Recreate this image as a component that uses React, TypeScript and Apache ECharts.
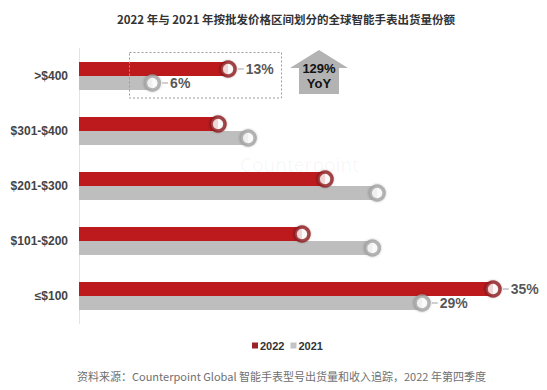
import React, { useEffect, useRef } from "react";
import * as echarts from "echarts";

const categories = [">$400", "$301-$400", "$201-$300", "$101-$200", "≤$100"];
const share2022 = [12.6, 11.75, 20.8, 18.85, 35];
const share2021 = [6.2, 14.3, 25.2, 24.8, 29];
const labelledIdx = [0, 4];
const seriesNames = ["2022", "2021"];
const titleText = "2022 年与 2021 年按批发价格区间划分的全球智能手表出货量份额";
const sourceText = "资料来源：Counterpoint Global 智能手表型号出货量和收入追踪，2022 年第四季度";
const yoyLines = ["129%", "YoY"];

const RED = "#BD1A1D";
const RED_DARK = "#8E1B1E";
const GRAY = "#BEBEBE";
const GRAY_DARK = "#A4A4A4";

export default function App() {
  const ref = useRef<HTMLDivElement>(null);
  useEffect(() => {
    if (!ref.current) return;
    const chart = echarts.init(ref.current, undefined, { renderer: "svg" });
    const pointLabel = (vals: number[]) => ({
      show: true,
      position: "right",
      distance: 1,
      color: "#2a2a2a",
      formatter: (p: any) =>
        labelledIdx.includes(p.dataIndex) ? `{d|}{v|${Math.round(vals[p.dataIndex])}%}` : "",
      rich: {
        d: { width: 6, height: 1, backgroundColor: "#8a8a8a" },
        v: {
          fontSize: 14,
          fontWeight: "bold",
          color: "#2a2a2a",
          fontFamily: "Liberation Sans, Arial, sans-serif",
          padding: [0, 0, 0, 2],
        },
      },
    });
    chart.setOption({
      animation: false,
      backgroundColor: "#fff",
      title: {
        text: titleText,
        left: 281,
        textAlign: "center",
        top: 8,
        textStyle: {
          fontSize: 11.5,
          fontWeight: "bold",
          color: "#333",
          fontFamily: "Noto Sans CJK SC",
        },
      },
      legend: {
        data: [
          { name: "2022", itemStyle: { color: "#9B2327" } },
          { name: "2021", itemStyle: { color: "#C4C4C4" } },
        ],
        left: 247,
        top: 335,
        icon: "rect",
        itemWidth: 6,
        itemHeight: 6,
        itemGap: 6,
        textStyle: {
          fontSize: 11,
          fontWeight: "bold",
          color: "#333",
          fontFamily: "Liberation Sans, Arial, sans-serif",
          padding: [0, 0, 0, -3],
        },
      },
      grid: { left: 79, right: 18.5, top: 48.5, bottom: 66.5 },
      xAxis: {
        type: "value",
        min: 0,
        max: 38,
        show: false,
      },
      yAxis: {
        type: "category",
        data: categories,
        inverse: true,
        axisLine: { show: true, lineStyle: { color: "#E3E3E3", width: 1 } },
        axisTick: { show: false },
        axisLabel: {
          margin: 11,
          fontSize: 12,
          fontWeight: "bold",
          color: "#444",
          fontFamily: "Liberation Sans, Arial, sans-serif",
        },
      },
      graphic: [
        {
          type: "text",
          left: 240,
          top: 155,
          z: 0,
          style: {
            text: "Counterpoint",
            fontSize: 19,
            fill: "rgba(0,0,0,0.04)",
            fontFamily: "Noto Sans, sans-serif",
          },
        },
        {
          type: "rect",
          shape: { x: 129.5, y: 52.5, width: 152, height: 45.5 },
          style: { fill: "none", stroke: "#9a9a9a", lineWidth: 1, lineDash: [2, 2] },
          z: 10,
        },
        {
          type: "polygon",
          shape: {
            points: [
              [319, 50],
              [348, 68],
              [339, 68],
              [339, 94],
              [299, 94],
              [299, 68],
              [290, 68],
            ],
          },
          style: { fill: "#B3B3B3" },
          z: 10,
        },
        {
          type: "text",
          x: 319,
          y: 68,
          z: 11,
          style: {
            text: yoyLines[0],
            align: "center",
            verticalAlign: "middle",
            fontSize: 13,
            fontWeight: "bold",
            fill: "#111",
            fontFamily: "Liberation Sans, Arial, sans-serif",
          },
        },
        {
          type: "text",
          x: 319,
          y: 83,
          z: 11,
          style: {
            text: yoyLines[1],
            align: "center",
            verticalAlign: "middle",
            fontSize: 13,
            fontWeight: "bold",
            fill: "#111",
            fontFamily: "Liberation Sans, Arial, sans-serif",
          },
        },
        {
          type: "text",
          left: 77,
          top: 370,
          style: {
            text: sourceText,
            fontSize: 11,
            fill: "#707070",
            fontFamily: "Noto Sans CJK SC",
          },
        },
      ],
      series: [
        {
          name: seriesNames[0],
          type: "bar",
          data: share2022,
          barWidth: 14,
          barGap: "0%",
          itemStyle: { color: RED },
        },
        {
          name: seriesNames[1],
          type: "bar",
          data: share2021,
          barWidth: 14,
          barGap: "0%",
          itemStyle: { color: GRAY },
        },
        {
          name: "2021pt",
          type: "scatter",
          data: share2021.map((v, i) => [v, categories[i]]),
          symbol: "circle",
          symbolSize: 14,
          symbolOffset: [0, 7],
          itemStyle: {
            color: "#fff",
            borderColor: GRAY_DARK,
            borderWidth: 3.5,
            shadowBlur: 2,
            shadowColor: "rgba(0,0,0,0.3)",
          },
          label: pointLabel(share2021),
          z: 5,
        },
        {
          name: "2022pt",
          type: "scatter",
          data: share2022.map((v, i) => [v, categories[i]]),
          symbol: "circle",
          symbolSize: 14,
          symbolOffset: [0, -7],
          itemStyle: {
            color: "#fff",
            borderColor: RED_DARK,
            borderWidth: 3.5,
            shadowBlur: 2,
            shadowColor: "rgba(0,0,0,0.3)",
          },
          label: pointLabel(share2022),
          z: 6,
        },
      ],
    });
    return () => chart.dispose();
  }, []);
  return (
    <div
      ref={ref}
      style={{ position: "fixed", left: 0, top: 0, width: 547, height: 390 }}
    />
  );
}
